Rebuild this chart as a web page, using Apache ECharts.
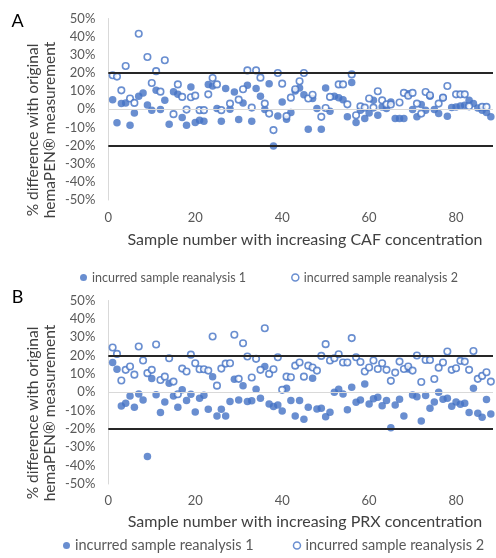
<!DOCTYPE html>
<html><head><meta charset="utf-8">
<script src="https://cdn.jsdelivr.net/npm/echarts@6/dist/echarts.min.js"></script>
<style>html,body{margin:0;padding:0;background:#fff}#c{width:496px;height:558px}</style>
</head><body><div id="c"></div>
<script>
// Panel A (CAF): values per sample number 1..88 (null = not shown)
const aRep1 = [5.3,-7.5,3.1,3.5,-8.8,-2,7.1,9,2.4,-0.5,10.4,-0.2,5,-8.2,9.7,8.2,-4.6,-8.8,12.3,-7.3,-6,-6.6,13.7,12.8,0.4,-6.6,11.4,0,9.5,-5.6,3.5,13.2,-6.6,11.4,7.1,-0.2,14.1,-20.3,-3.7,4,-5.5,-1.8,10.1,11.7,8,-11,5.9,0.4,-11,11.7,-1.1,7.1,6.4,5.3,-4.2,14.8,-7.3,-0.5,-5.1,-2,4.9,-3.3,1.3,0.4,4,-5.1,-5.1,-5.1,8.6,-0.2,-4.2,2.6,-0.5,7.1,-0.2,-2.4,6.4,-3.8,0.9,1.3,1.8,2.2,4.9,3.1,0.7,-0.5,-1.8,-4.2];
const aRep2 = [18.7,18,10.4,23.8,5.9,3.5,41.6,null,28.8,14.5,21,9.7,27,null,-2.7,13.7,6.8,-0.2,6.6,7.5,-0.5,-0.5,8.2,17.2,13.7,-0.5,null,3.1,null,5.3,11,21.4,0.9,21.4,17.4,3.1,-2.4,-11.5,20,14.1,-3.8,6.4,11,15.4,20,5.9,8,null,-4.2,0.7,6.8,null,13.7,13.7,2.7,19.2,-3.3,1.6,0.9,5.9,0.9,9.9,4.9,2.7,2.6,null,3.7,9,7.5,9,3.1,-2.4,9.5,7.7,null,3.1,6.4,12.8,null,8.2,8.2,8.2,1.6,null,null,1.3,1.3,null];
// Panel B (PRX)
const bRep1 = [16.2,12.5,-7.5,-6,-2,-8.2,-0.9,-4.2,-35,7.5,-1.3,-11.1,-5.3,4.9,-2,-8.2,1.3,-4.5,-1.1,-10.7,-3.3,-1.6,-9.3,8.5,-12.9,-9.3,-12.9,-5.1,7.1,-4.2,3.5,-5.1,-4.7,1.6,-3.3,14,-6.4,-7.8,-6.9,-10.2,2.2,-4.5,-12.9,-4.5,-14.7,-8.2,7.6,-9.1,-8.7,-13.3,-10.9,0,1.6,-0.9,-9.6,2.7,-5.5,-4.2,4.5,-6.4,-3.6,-2.7,-7.3,-4.5,-19.3,-6.9,-3.8,-12.9,12.7,-1.5,-2.4,-15.6,-1.8,-8.7,-5.3,0,-3.8,-3.3,-7.6,-5.3,-6.5,-6,-11.1,2.2,-11.5,-13.6,-4,-11.8];
const bRep2 = [24.4,20.9,6.4,12.2,14,9.6,24.9,17.3,10.4,12.2,26,6.7,8.5,18.5,5.8,-1.1,12.9,11.3,20.5,15.8,12.5,12.5,11.8,30.4,3.6,12.9,15.6,15.8,31.3,7.3,26.7,19.5,8,18.2,12.2,34.9,10,12.5,19.1,1.3,8.5,8.2,14.5,16.2,8.5,14.5,13.5,11.8,19.8,26.2,17.3,18.5,20.7,16.2,16.2,29.5,19.1,16.5,11.3,13.5,17.3,12.7,15.8,12.2,6.2,10.7,16.7,12.7,14,11.8,20,5.6,17.6,17.6,7.2,13.4,16.2,22.2,12.2,13.1,17.1,16.7,12.2,22.5,7.3,8.9,10.9,5.8];
const xTicks = [0,20,40,60,80];
const yTicks = [-50,-40,-30,-20,-10,0,10,20,30,40,50];
const limits = [20,-20];
const name1 = 'incurred sample reanalysis 1';
const name2 = 'incurred sample reanalysis 2';
const titleA = 'Sample number with increasing CAF concentration';
const titleB = 'Sample number with increasing PRX concentration';
const yTitle = '% difference with original\nhemaPEN\u00AE measurement';

const BLUE = '#4472C4';
const FONT = 'Lato, "Liberation Sans", sans-serif';
function pts(arr){ const o=[]; arr.forEach((v,i)=>{ if(v!==null) o.push([i+1,v]); }); return o; }

const chart = echarts.init(document.getElementById('c'), null, {renderer:'canvas'});
const grids = [
  {left:108.3, top:18.5, width:386, height:181.5},
  {left:108.3, top:300.5, width:386, height:183.5}
];
function xAx(i){ return {type:'value', gridIndex:i, min:0, max:88.5, interval:20,
  axisLine:{show:false}, axisTick:{show:false}, splitLine:{show:false},
  axisLabel:{color:'#595959', fontSize:13, fontFamily:FONT, margin:i?10:11,
    formatter:v=> xTicks.includes(v)? String(v):''}}; }
function yAx(i){ return {type:'value', gridIndex:i, min:yTicks[0], max:yTicks[yTicks.length-1], interval:10,
  axisLine:{show:true, lineStyle:{color:'#D9D9D9', width:1}}, axisTick:{show:false}, splitLine:{show:false},
  axisLabel:{color:'#595959', fontSize:13, fontFamily:FONT, margin:13, formatter:v=>v+'%'}}; }

function refSeries(i){ return {type:'line', xAxisIndex:i, yAxisIndex:i, data:[], z:1, silent:true,
  markLine:{silent:true, symbol:'none', label:{show:false}, animation:false,
    data:[{yAxis:0, lineStyle:{color:'#D9D9D9', width:1, type:'solid'}},
          {yAxis:limits[0], lineStyle:{color:'#262626', width:2, type:'solid'}},
          {yAxis:limits[1], lineStyle:{color:'#262626', width:2, type:'solid'}}]}}; }
function filled(i, arr){ return {name:name1, type:'scatter', xAxisIndex:i, yAxisIndex:i, z:3, symbol:'circle', symbolSize:7.5,
  itemStyle:{color:BLUE}, data:pts(arr)}; }
function open(i, arr){ return {name:name2, type:'scatter', xAxisIndex:i, yAxisIndex:i, z:4, symbol:'circle', symbolSize:6.5,
  itemStyle:{color:'#fff', borderColor:BLUE, borderWidth:1.6}, data:pts(arr)}; }

function legend(top, left, fs, gap){ return {top:top, left:left, padding:0, orient:'horizontal', itemWidth:7, itemHeight:7, itemGap:gap,
  textStyle:{color:'#595959', fontSize:fs, fontFamily:FONT}, selectedMode:false,
  data:[{name:name1, icon:'circle', itemStyle:{color:BLUE, borderWidth:0}},
        {name:name2, icon:'circle', itemStyle:{color:'#fff', borderColor:BLUE, borderWidth:1.5}}]}; }

chart.setOption({
  animation:false,
  backgroundColor:'#fff',
  grid:grids,
  xAxis:[xAx(0), xAx(1)],
  yAxis:[yAx(0), yAx(1)],
  legend:[legend(271, 80, 12.5, 45), legend(538, 63, 14.5, 39)],
  series:[refSeries(0), filled(0,aRep1), open(0,aRep2), refSeries(1), filled(1,bRep1), open(1,bRep2)],
  graphic:[
    {type:'text', x:17.5, y:21, style:{text:'A', fill:'#000', font:'18px '+FONT, align:'center', verticalAlign:'middle'}},
    {type:'text', x:17.5, y:297, style:{text:'B', fill:'#000', font:'18px '+FONT, align:'center', verticalAlign:'middle'}},
    {type:'text', x:305, y:240, style:{text:titleA, fill:'#404040', font:'16px '+FONT, align:'center', verticalAlign:'middle'}},
    {type:'text', x:305, y:522, style:{text:titleB, fill:'#404040', font:'16px '+FONT, align:'center', verticalAlign:'middle'}},
    {type:'text', x:41.5, y:130, rotation:Math.PI/2, style:{text:yTitle, fill:'#404040', font:'15.5px '+FONT, align:'center', verticalAlign:'middle', lineHeight:17}},
    {type:'text', x:41.5, y:413, rotation:Math.PI/2, style:{text:yTitle, fill:'#404040', font:'15.5px '+FONT, align:'center', verticalAlign:'middle', lineHeight:17}}
  ]
});
</script></body></html>
